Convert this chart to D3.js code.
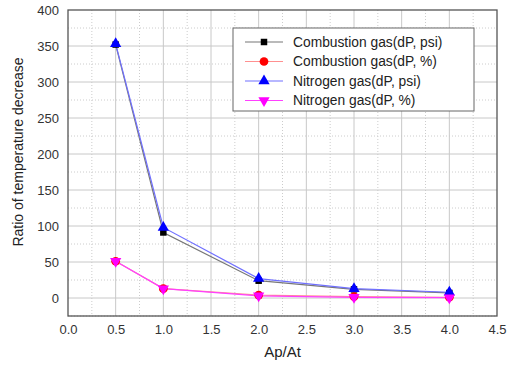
<!DOCTYPE html>
<html>
<head>
<meta charset="utf-8">
<script src="https://cdn.jsdelivr.net/npm/d3@7"></script>
<style>
  body { margin: 0; background: #fff; }
  text { font-family: "Liberation Sans", Arial, sans-serif; }
</style>
</head>
<body>
<svg id="chart" width="510" height="365"></svg>
<script>
// data
var apAt = [0.5, 1.0, 2.0, 3.0, 4.0];
var combustionPsi = [352, 91, 24, 12, 7];
var combustionPct = [51, 13, 4, 2, 1];
var nitrogenPsi = [353, 98, 27, 13, 8];
var nitrogenPct = [51, 13, 3, 1, 0.5];
var xTicks = [0, 0.5, 1, 1.5, 2, 2.5, 3, 3.5, 4, 4.5];
var yTicks = [0, 50, 100, 150, 200, 250, 300, 350, 400];

var series = [
  { name: "Combustion gas(dP, psi)", values: combustionPsi, line: "#777", fill: "#000", marker: d3.symbolSquare, size: 42, rot: 0 },
  { name: "Combustion gas(dP, %)", values: combustionPct, line: "#ff9090", fill: "#ff0000", marker: d3.symbolCircle, size: 60, rot: 0 },
  { name: "Nitrogen gas(dP, psi)", values: nitrogenPsi, line: "#7070ff", fill: "#0000ff", marker: d3.symbolTriangle, size: 55, rot: 0 },
  { name: "Nitrogen gas(dP, %)", values: nitrogenPct, line: "#ff40ff", fill: "#ff00ff", marker: d3.symbolTriangle, size: 55, rot: 180 }
];

var margin = { left: 68, top: 10, right: 13, bottom: 49 };
var width = 510 - margin.left - margin.right,
    height = 365 - margin.top - margin.bottom;

var svg = d3.select("#chart");
var g = svg.append("g").attr("transform", "translate(" + margin.left + "," + margin.top + ")");

var x = d3.scaleLinear().domain([0, 4.5]).range([0, width]);
var y = d3.scaleLinear().domain([-25, 400]).range([height, 0]);

// minor grid (dotted)
g.selectAll("line.xminor")
  .data(d3.range(0.25, 4.5, 0.5))
  .enter().append("line")
  .attr("x1", d => x(d)).attr("x2", d => x(d))
  .attr("y1", 0).attr("y2", height)
  .attr("stroke", "#ccc").attr("stroke-dasharray", "1,2");
g.selectAll("line.yminor")
  .data(d3.range(-25, 400, 50))
  .enter().append("line")
  .attr("y1", d => y(d)).attr("y2", d => y(d))
  .attr("x1", 0).attr("x2", width)
  .attr("stroke", "#ccc").attr("stroke-dasharray", "1,2");

// major grid
g.selectAll("line.xmajor")
  .data(xTicks.slice(1, -1))
  .enter().append("line")
  .attr("x1", d => x(d)).attr("x2", d => x(d))
  .attr("y1", 0).attr("y2", height)
  .attr("stroke", "#c8c8c8");
g.selectAll("line.ymajor")
  .data(yTicks.slice(0, -1))
  .enter().append("line")
  .attr("y1", d => y(d)).attr("y2", d => y(d))
  .attr("x1", 0).attr("x2", width)
  .attr("stroke", "#c8c8c8");

// axes
var xAxis = d3.axisBottom(x).tickValues(xTicks).tickFormat(d3.format(".1f")).tickSize(0).tickPadding(9);
var yAxis = d3.axisLeft(y).tickValues(yTicks).tickSize(0).tickPadding(9);

g.append("g").attr("transform", "translate(0," + height + ")").call(xAxis)
  .call(a => a.select(".domain").remove())
  .selectAll("text").attr("font-size", 13).attr("fill", "#333");
g.append("g").call(yAxis)
  .call(a => a.select(".domain").remove())
  .selectAll("text").attr("font-size", 13).attr("fill", "#333");

// frame
g.append("rect").attr("width", width).attr("height", height)
  .attr("fill", "none").attr("stroke", "#555").attr("stroke-width", 1.3);

// lines and markers
var line = d3.line().x((d, i) => x(apAt[i])).y(d => y(d));
series.forEach(function(s) {
  g.append("path").datum(s.values)
    .attr("d", line).attr("fill", "none")
    .attr("stroke", s.line).attr("stroke-width", 1.2);
});
series.forEach(function(s) {
  var sym = d3.symbol().type(s.marker).size(s.size);
  g.selectAll(null).data(s.values).enter().append("path")
    .attr("d", sym)
    .attr("transform", (d, i) => "translate(" + x(apAt[i]) + "," + y(d) + ") rotate(" + s.rot + ")")
    .attr("fill", s.fill);
});

// legend
var lg = svg.append("g").attr("transform", "translate(233,28)");
lg.append("rect").attr("width", 241).attr("height", 83)
  .attr("fill", "#fff").attr("stroke", "#666");
series.forEach(function(s, i) {
  var row = lg.append("g").attr("transform", "translate(0," + (14 + i * 19.5) + ")");
  row.append("line").attr("x1", 12).attr("x2", 50)
    .attr("stroke", s.line).attr("stroke-width", 1.2);
  row.append("path").attr("d", d3.symbol().type(s.marker).size(s.size)())
    .attr("transform", "translate(31,0) rotate(" + s.rot + ")")
    .attr("fill", s.fill);
  row.append("text").attr("x", 60).attr("dy", "0.35em")
    .attr("font-size", 13.8).attr("fill", "#222").text(s.name);
});

// axis titles
svg.append("text")
  .attr("transform", "translate(23,152) rotate(-90)")
  .attr("text-anchor", "middle").attr("font-size", 14).attr("fill", "#222")
  .text("Ratio of temperature decrease");
svg.append("text")
  .attr("x", margin.left + x(2.25)).attr("y", 357)
  .attr("text-anchor", "middle").attr("font-size", 15).attr("fill", "#222")
  .text("Ap/At");
</script>
</body>
</html>
